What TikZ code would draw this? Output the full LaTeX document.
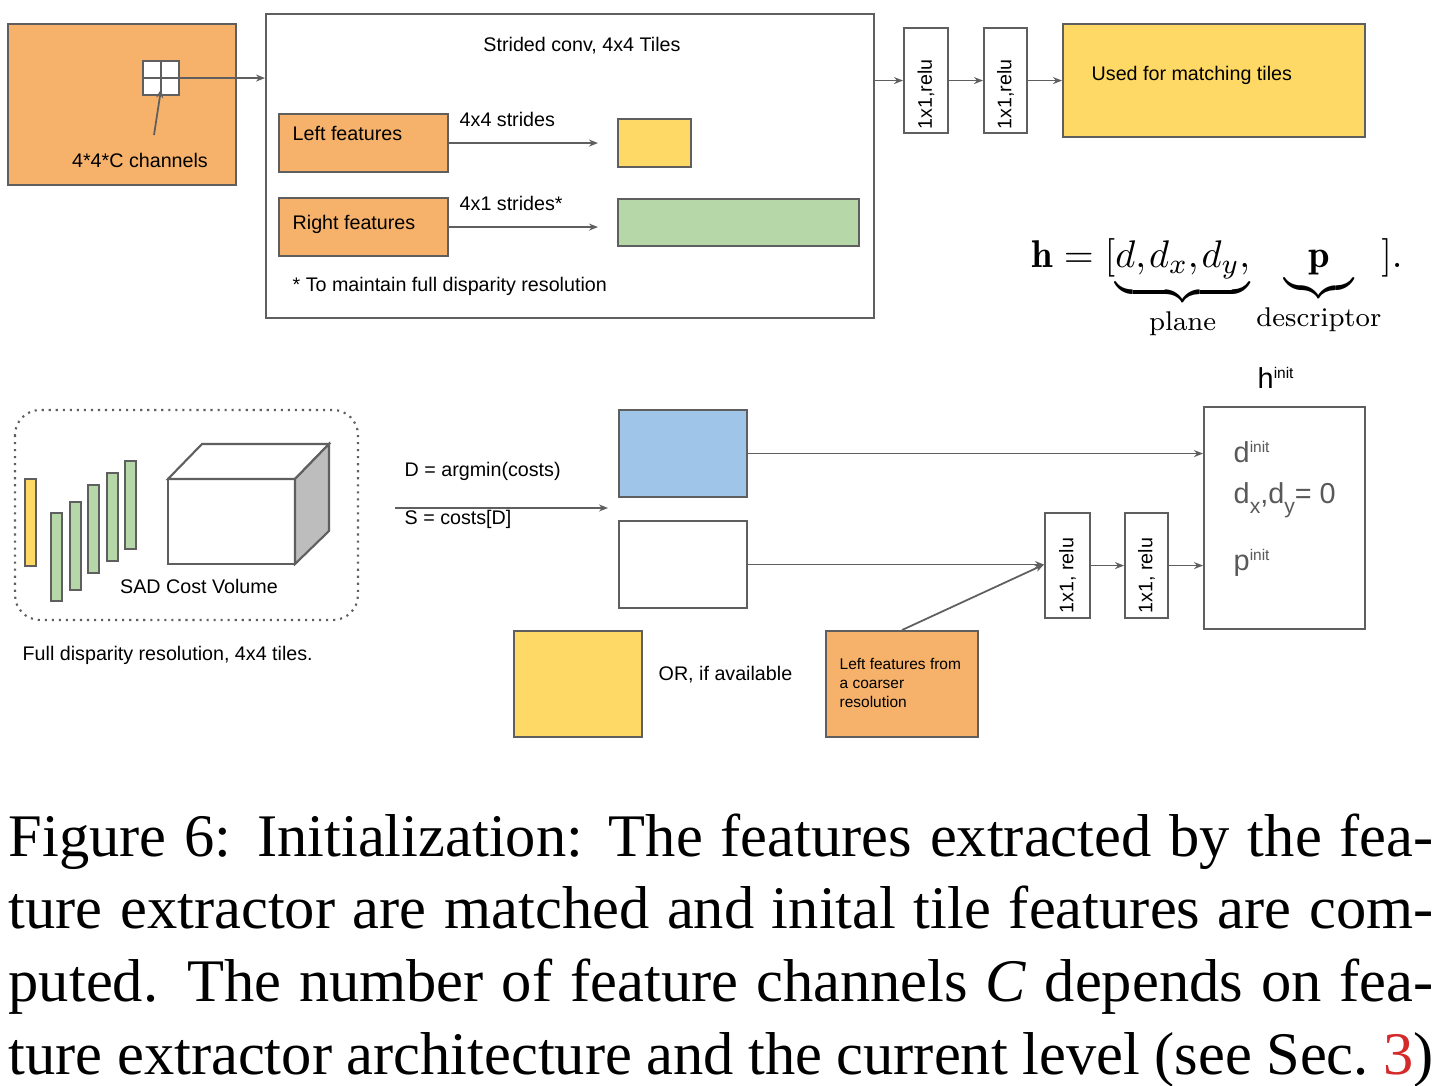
\documentclass[tikz,border=0pt]{standalone}
\usepackage{amsmath}
\usepackage{fontspec}
\newfontfamily\arial{Liberation Sans}
\newfontfamily\capfont{Liberation Serif}
\usepackage{xcolor}
\usepackage{tikz}
\usetikzlibrary{calc,arrows.meta,positioning}
\definecolor{orangex}{HTML}{F6B26B}
\definecolor{yellowx}{HTML}{FFD966}
\definecolor{greenx}{HTML}{B6D7A8}
\definecolor{bluex}{HTML}{9FC5E8}
\definecolor{edgex}{HTML}{5F5F5F}
\definecolor{sidex}{HTML}{BDBDBD}
\definecolor{inkx}{HTML}{595959}
\definecolor{refred}{HTML}{D42A2A}
\newcommand{\supx}[1]{\raisebox{0.1cm}{\fontsize{4.4}{5}\selectfont #1}}
\newcommand{\subx}[1]{\raisebox{-0.1cm}{\fontsize{6}{7}\selectfont #1}}
\tikzset{
  ar/.style={-{Stealth[length=0.9mm,width=0.7mm]},line width=0.5pt,edgex},
  box/.style={draw=edgex,line width=0.6pt,inner sep=0,anchor=north west},
  lbl/.style={font=\arial\fontsize{5.6}{6.7}\selectfont,inner sep=0,anchor=base west},
  relubox/.style={box,fill=white,minimum width=0.44cm,minimum height=1.05cm},
  relutxt/.style={lbl,rotate=90,anchor=west},
  hlbl/.style={font=\arial\fontsize{8.2}{9.8}\selectfont,inner sep=0,anchor=base west,text=inkx},
  capline/.style={font=\capfont\fontsize{17.2}{20.5}\selectfont,inner sep=0,anchor=base west}
}
\begin{document}
\begin{tikzpicture}[x=0.01cm,y=-0.01cm]
\fill[white] (0,0) rectangle (1442,1086);
\useasboundingbox (0,0) rectangle (1442,1086);
\node[box,fill=orangex,minimum width=2.28cm,minimum height=1.61cm] (featmap) at (7,23) {};
\node[box,fill=white,minimum width=0.36cm,minimum height=0.34cm] (tile) at (142,60) {};
\draw[edgex,line width=0.6pt] (tile.north) -- (tile.south) (tile.west) -- (tile.east);
\node[lbl,anchor=base] (chanlbl) at (140,168) {4*4*C channels};
\coordinate (chanfoot) at (154,135);
\draw[ar] (chanfoot) -- ([yshift=-0.11cm]tile.center);
\node[box,minimum width=6.08cm,minimum height=3.04cm] (conv) at (265,13) {};
\draw[ar] (tile.east) -- (tile.east -| conv.west);
\node[lbl,anchor=base] (convlbl) at (582,52) {Strided conv, 4x4 Tiles};
\node[box,fill=orangex,minimum width=1.69cm,minimum height=0.58cm] (leftf) at (278,113) {};
\node[box,fill=orangex,minimum width=1.69cm,minimum height=0.58cm] (rightf) at (278,197) {};
\node[box,fill=yellowx,minimum width=0.73cm,minimum height=0.48cm] (ltile) at (617,118) {};
\node[box,fill=greenx,minimum width=2.41cm,minimum height=0.47cm] (rtile) at (617,198) {};
\node[lbl] (leftlbl) at (292,141) {Left features};
\node[lbl] (rightlbl) at (292,230) {Right features};
\node[lbl] (s44) at (459,127) {4x4 strides};
\node[lbl] (s41) at (459,211) {4x1 strides*};
\node[lbl] (note) at (292,292) {* To maintain full disparity resolution};
\draw[ar,shorten >=0.19cm] (leftf.east) -- (leftf.east -| ltile.west);
\draw[ar,shorten >=0.19cm] (rightf.east) -- (rightf.east -| rtile.west);
\node[relubox] (relu1) at (903,27) {};
\node[relubox,minimum width=0.43cm] (relu2) at (983,27) {};
\node[relutxt] at ([yshift=0.04cm]relu1.south) {1x1,relu};
\node[relutxt] at ([yshift=0.04cm]relu2.south) {1x1,relu};
\node[box,fill=yellowx,minimum width=3.02cm,minimum height=1.13cm] (match) at (1062,23) {};
\node[lbl] (matchlbl) at (1091,81) {Used for matching tiles};
\draw[ar] (conv.east |- relu1.west) -- (relu1.west);
\draw[ar] (relu1) -- (relu2);
\draw[ar] (relu2) -- (relu2 -| match.west);
\node[inner sep=0,anchor=base west,font=\fontsize{11}{13.2}\selectfont] (hform) at (1031,268)
  {$\mathbf{h} = [\underbrace{d,\mskip-1.5mu d_x,\mskip-1.5mu d_y,}_{\text{plane}} \underbrace{\enspace\mathbf{p}\enspace}_{\text{descriptor}}].$};
\draw[edgex,line width=0.6pt,dash pattern=on 0.6pt off 1.4pt,rounded corners=0.25cm] (15,410) rectangle (358,620);
\draw[edgex,line width=0.6pt,fill=yellowx] (25,479) rectangle ++(11,87);
\foreach \x/\top in {51/513,70/502,88/485,107/473,125/461}
  \draw[edgex,line width=0.6pt,fill=greenx] (\x,\top) rectangle ++(11,88);
\draw[edgex,line width=0.6pt,fill=white] (168,479) rectangle (295,564);
\draw[edgex,line width=0.6pt,fill=white] (168,479) -- (202,444) -- (329,444) -- (295,479) -- cycle;
\draw[edgex,line width=0.6pt,fill=sidex] (295,479) -- (329,444) -- (329,531) -- (295,564) -- cycle;
\node[lbl,anchor=base] (sadlbl) at (199,594) {SAD Cost Volume};
\node[lbl] (fulllbl) at (22,661) {Full disparity resolution, 4x4 tiles.};
\node[lbl] (dlbl) at (404,477) {D = argmin(costs)};
\node[lbl] (slbl) at (404,525) {S = costs[D]};
\node[box,fill=bluex,minimum width=1.28cm,minimum height=0.87cm] (dmap) at (618,409) {};
\node[box,fill=white,minimum width=1.28cm,minimum height=0.87cm] (smap) at (618,520) {};
\coordinate (argin) at (395,508);
\draw[ar,shorten >=0.1cm] (argin) -- (argin -| smap.west);
\node[box,fill=yellowx,minimum width=1.28cm,minimum height=1.06cm] (lowtile) at (513,630) {};
\node[lbl] (orlbl) at (658,681) {OR, if available};
\node[box,fill=orangex,minimum width=1.52cm,minimum height=1.06cm] (coarse) at (825,630) {};
\node[lbl,font=\arial\fontsize{4.4}{5.4}\selectfont,align=left,anchor=north west] (coarselbl) at (839,658)
  {Left features from\\a coarser\\resolution};
\node[relubox,minimum width=0.45cm] (relu3) at (1044,512) {};
\node[relubox,minimum width=0.43cm] (relu4) at (1124,512) {};
\node[relutxt] at ([yshift=0.05cm]relu3.south) {1x1, relu};
\node[relutxt] at ([yshift=0.05cm]relu4.south) {1x1, relu};
\node[box,minimum width=1.61cm,minimum height=2.22cm] (hbox) at (1203,406) {};
\draw[ar] (dmap.east) -- (dmap.east -| hbox.west);
\draw[ar] (smap.east) -- (smap.east -| relu3.west);
\draw[ar] (coarse.north) -- (smap.east -| relu3.west);
\draw[ar] (relu3) -- (relu4);
\draw[ar] (relu4) -- (relu4 -| hbox.west);
\node[hlbl,text=black] (hinit) at (1257,389) {h\supx{init}};
\node[hlbl] (dinit) at (1233,463) {d\supx{init}};
\node[hlbl] (dxdy) at (1233,504) {d\subx{x},d\subx{y}= 0};
\node[hlbl] (pinit) at (1233,571) {p\supx{init}};
\node[capline] (cap1) at (8,857) {\hbox to 14.24cm{Figure 6: Initialization: The features extracted by the fea-}};
\node[capline] (cap2) at (8,929) {\hbox to 14.24cm{ture extractor are matched and inital tile features are com-}};
\node[capline] (cap3) at (8,1002) {\hbox to 14.24cm{puted. The number of feature channels \textit{C} depends on fea-}};
\node[capline] (cap4) at (8,1075) {\hbox to 14.24cm{ture extractor architecture and the current level (see Sec.~\textcolor{refred}{3})}};
\end{tikzpicture}
\end{document}
